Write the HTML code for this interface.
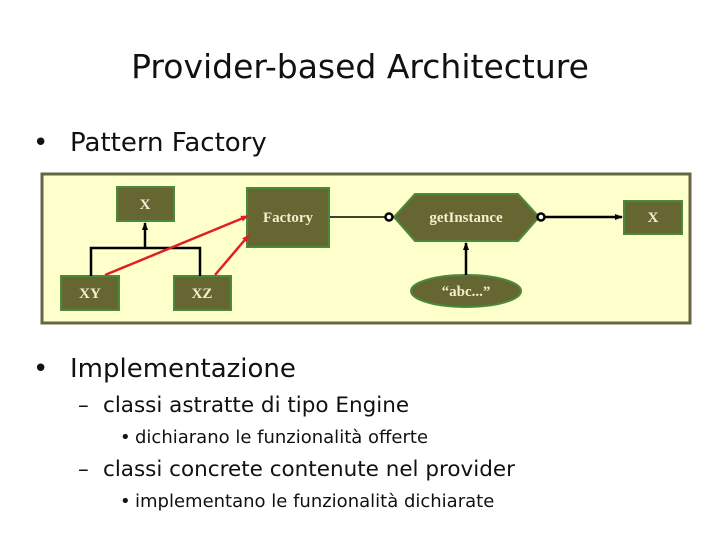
<!DOCTYPE html>
<html><head><meta charset="utf-8"><style>
html,body{margin:0;padding:0;background:#fff;width:720px;height:540px;overflow:hidden}
.t{position:absolute;font-family:"DejaVu Sans","Liberation Sans",sans-serif;color:#111;white-space:nowrap}
</style></head><body>
<div class="t" style="left:0;width:720px;text-align:center;top:47px;font-size:33px;">Provider-based Architecture</div>
<div class="t" style="left:33px;top:128px;font-size:26px;">•</div>
<div class="t" style="left:70px;top:128px;font-size:26px;">Pattern Factory</div>
<div class="t" style="left:33px;top:354px;font-size:26px;">•</div>
<div class="t" style="left:70px;top:354px;font-size:26px;">Implementazione</div>
<div class="t" style="left:78px;top:393px;font-size:21.5px;">–</div>
<div class="t" style="left:103px;top:393px;font-size:21.5px;">classi astratte di tipo Engine</div>
<div class="t" style="left:120px;top:427px;font-size:18px;">•</div>
<div class="t" style="left:135px;top:427px;font-size:18px;">dichiarano le funzionalità offerte</div>
<div class="t" style="left:78px;top:457px;font-size:21.5px;">–</div>
<div class="t" style="left:103px;top:457px;font-size:21.5px;">classi concrete contenute nel provider</div>
<div class="t" style="left:120px;top:491px;font-size:18px;">•</div>
<div class="t" style="left:135px;top:491px;font-size:18px;">implementano le funzionalità dichiarate</div>
<svg width="720" height="540" style="position:absolute;left:0;top:0" font-family="Liberation Serif,serif" font-size="15" font-weight="bold" fill="#f4eed0">
<defs><marker id="a" markerWidth="8" markerHeight="8" refX="7" refY="4" orient="auto" markerUnits="userSpaceOnUse"><path d="M0,1 L8,4 L0,7z" fill="#000"/></marker>
<marker id="r" markerWidth="8" markerHeight="8" refX="7" refY="4" orient="auto" markerUnits="userSpaceOnUse"><path d="M0,1 L8,4 L0,7z" fill="#e02020"/></marker></defs>
<rect x="42" y="174" width="648" height="149" fill="#ffffcc" stroke="#666644" stroke-width="3"/>
<g fill="#666633" stroke="#4a8a3a" stroke-width="2">
<rect x="117" y="187" width="57" height="34"/>
<rect x="247" y="188" width="82" height="59"/>
<rect x="61" y="276" width="58" height="34"/>
<rect x="174" y="276" width="57" height="34"/>
<rect x="624" y="201" width="58" height="33"/>
<polygon points="394,217 415,194 518,194 539,217 518,241 415,241"/>
<ellipse cx="466" cy="291" rx="55" ry="16"/>
</g>
<g stroke="#000" stroke-width="2.5" fill="none">
<polyline points="91,276 91,248 200,248 200,276"/>
<line x1="145" y1="248" x2="145" y2="223" marker-end="url(#a)"/>
<line x1="330" y1="217" x2="386" y2="217" stroke-width="1.5"/>
<line x1="544" y1="217" x2="622" y2="217" marker-end="url(#a)"/>
<line x1="466" y1="275" x2="466" y2="243" marker-end="url(#a)"/>
<circle cx="389" cy="217" r="3.5" fill="#fff"/>
<circle cx="541" cy="217" r="3.5" fill="#fff"/>
</g>
<g stroke="#e02020" stroke-width="2.5">
<line x1="105" y1="275" x2="248" y2="216" marker-end="url(#r)"/>
<line x1="215" y1="275" x2="249" y2="235" marker-end="url(#r)"/>
</g>
<g text-anchor="middle">
<text x="145" y="209">X</text>
<text x="288" y="222">Factory</text>
<text x="90" y="298">XY</text>
<text x="202" y="298">XZ</text>
<text x="466" y="222">getInstance</text>
<text x="653" y="222">X</text>
<text x="466" y="296">“abc...”</text>
</g>
</svg>
</body></html>
